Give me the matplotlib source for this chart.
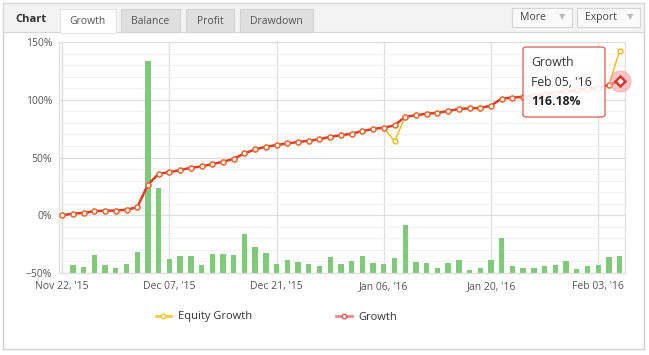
import matplotlib
matplotlib.use("Agg")
import matplotlib.pyplot as plt
from matplotlib.patches import Rectangle, FancyBboxPatch
from matplotlib.lines import Line2D
from matplotlib.ticker import MultipleLocator

plt.rcParams['font.family'] = ['Open Sans', 'DejaVu Sans']

# growth curve (%), one point per trading day
growth = [0.0, 1.4, 2.0, 3.5, 4.0, 4.0, 4.9, 6.9, 26.6, 35.9,
          37.3, 39.1, 41.1, 42.3, 44.3, 46.3, 48.9, 53.5, 57.0, 59.3,
          60.8, 62.2, 63.4, 64.5, 65.7, 68.0, 69.2, 70.6, 72.9, 74.7,
          75.8, 77.8, 85.4, 86.5, 88.0, 88.6, 90.3, 92.0, 92.6, 92.9,
          94.9, 101.0, 101.9, 102.5, 103.6, 104.8, 106.0, 107.2, 108.3, 109.4,
          110.6, 112.8, 116.18]
equity = [0.0, 1.4, 2.0, 3.5, 4.0, 4.0, 4.9, 6.9, 26.6, 35.9,
          37.3, 39.1, 41.1, 42.3, 44.3, 46.3, 48.9, 53.5, 57.0, 59.3,
          60.8, 62.2, 63.4, 64.5, 65.7, 68.0, 69.2, 70.6, 72.9, 74.7,
          75.8, 64.0, 85.4, 86.5, 88.0, 88.6, 90.3, 92.0, 92.6, 92.9,
          94.9, 101.0, 101.9, 102.5, 103.6, 104.8, 106.0, 107.2, 108.3, 109.4,
          110.6, 112.8, 142.4]
# daily bars, height above the -50% floor
daily_bar = [0, 7.2, 4.9, 15.3, 7.2, 4.3, 8.0, 17.9, 183.7, 73.4,
             12.1, 14.4, 14.4, 7.2, 16.1, 16.1, 15.3, 33.5, 22.2, 17.0,
             7.5, 10.9, 9.2, 7.5, 6.3, 13.5, 8.0, 10.1, 14.4, 8.3,
             7.5, 12.7, 41.3, 9.2, 8.3, 4.3, 8.3, 10.9, 2.2, 4.0,
             10.9, 30.0, 5.7, 4.0, 4.0, 5.7, 6.6, 10.1, 3.4, 5.7,
             6.6, 13.5, 14.4]
tick_idx = [0, 10, 20, 30, 40, 50]
tick_labels = ["Nov 22, '15", "Dec 07, '15", "Dec 21, '15",
               "Jan 06, '16", "Jan 20, '16", "Feb 03, '16"]
tabs = ["Growth", "Balance", "Profit", "Drawdown"]

W, H = 649, 355


def fx(x):
    return x / W


def fy(y):
    return 1 - y / H


fig = plt.figure(figsize=(6.49, 3.55), dpi=100)
fig.patch.set_facecolor('white')

ax = fig.add_axes([fx(59), fy(273), fx(625) - fx(59), fy(42) - fy(273)])
x = list(range(len(growth)))

ax.bar(x, daily_bar, bottom=-50, width=0.5, color='#80c97a', zorder=2)
ax.plot(x, equity, color='#f5b70f', lw=1, marker='o', ms=3.4,
        mfc='white', mec='#f5b70f', mew=1, zorder=3)
ax.plot(x, growth, color='#dc3d28', lw=1.8, marker='o', ms=3.6,
        mfc='white', mec='#ee6a3a', mew=1.1, zorder=4)

# hovered point
ax.plot(x[-1], growth[-1], 'o', ms=15, color='#f4a3a3', alpha=0.6, zorder=5, clip_on=False)
ax.plot(x[-1], growth[-1], 'D', ms=5.5, mfc='white', mec='#d9342b', mew=1.8, zorder=6,
        clip_on=False)

ax.set_xlim(-0.3, 52.5)
ax.set_ylim(-50, 150)
ax.yaxis.set_minor_locator(MultipleLocator(10))
ax.set_yticks([-50, 0, 50, 100, 150])
ax.set_yticklabels(['\u221250%', '0%', '50%', '100%', '150%'])
ax.set_xticks(tick_idx)
ax.set_xticklabels(tick_labels)
ax.tick_params(axis='both', length=0, labelsize=7.5, colors='#555555')
ax.tick_params(axis='y', pad=5)
ax.tick_params(axis='x', pad=6)
ax.tick_params(axis='y', which='minor', length=0)
ax.grid(True, which='major', color='#dedede', lw=0.9, zorder=0)
ax.grid(True, which='minor', axis='y', color='#f1f1f1', lw=0.8, zorder=0)
ax.set_axisbelow(True)
for s in ax.spines.values():
    s.set_color('#dedede')
    s.set_linewidth(0.9)

handles = [Line2D([], [], color='#f7cc4a', lw=2, marker='o', ms=3.2, mfc='white',
                  mec='#f2c12e', mew=1),
           Line2D([], [], color='#e68a8a', lw=2, marker='o', ms=3.2, mfc='white',
                  mec='#d9534f', mew=1)]
fig.legend(handles, ['Equity Growth', 'Growth'], loc='center left',
           bbox_to_anchor=(fx(150), fy(317)), ncol=2, frameon=False, borderpad=0,
           fontsize=8, handlelength=1.4, handletextpad=0.6, columnspacing=7.6,
           labelcolor='#333333')

# tooltip
fig.patches.append(FancyBboxPatch((fx(523), fy(117)), fx(605) - fx(523), fy(47) - fy(117),
                                  boxstyle='round,pad=0,rounding_size=0.006',
                                  transform=fig.transFigure, facecolor='white', alpha=0.88,
                                  edgecolor='#d9534f', lw=1, zorder=10))
fig.text(fx(531), fy(63), 'Growth', fontsize=8.8, color='#333333', va='center', zorder=11)
fig.text(fx(531), fy(82), "Feb 05, '16", fontsize=8.8, color='#333333', va='center', zorder=11)
fig.text(fx(531), fy(101), '116.18%', fontsize=8.8, color='#222222', va='center',
         fontweight='bold', zorder=11)

# widget frame and header with tabs
fig.patches.append(Rectangle((fx(3), fy(349)), fx(644) - fx(3), fy(3) - fy(349),
                             transform=fig.transFigure, fill=False, edgecolor='#cfcfcf', lw=1))
fig.patches.append(Rectangle((fx(3), fy(32)), fx(644) - fx(3), fy(3) - fy(32),
                             transform=fig.transFigure, facecolor='#f3f3f3', edgecolor='#d6d6d6', lw=0.8))
fig.text(fx(15), fy(20), 'Chart', fontsize=8, fontweight='bold', color='#333333', va='center')

tab_x = [(60, 116), (121, 180), (186, 234), (240, 313)]
for i, (name, (x0, x1)) in enumerate(zip(tabs, tab_x)):
    fc = 'white' if i == 0 else '#dfdfdf'
    y1 = 32.6 if i == 0 else 32
    fig.patches.append(Rectangle((fx(x0), fy(y1)), fx(x1) - fx(x0), fy(9) - fy(y1),
                                 transform=fig.transFigure, facecolor=fc,
                                 edgecolor='#e4e4e4' if i == 0 else '#d3d3d3', lw=0.8))
    fig.text(fx((x0 + x1) / 2), fy(21), name, fontsize=7.5, color='#555555',
             ha='center', va='center')

for name, (x0, x1) in [('More', (512, 572)), ('Export', (577, 640))]:
    fig.patches.append(Rectangle((fx(x0), fy(27)), fx(x1) - fx(x0), fy(8) - fy(27),
                                 transform=fig.transFigure, facecolor='#fafafa',
                                 edgecolor='#d5d5d5', lw=0.8))
    fig.text(fx(x0 + 8), fy(17.5), name, fontsize=7.5, color='#444444', va='center')
    fig.text(fx(x1 - 10), fy(17.5), '\u25bc', fontsize=6, color='#bbbbbb',
             ha='center', va='center')

fig.savefig('out.png', dpi=100)
